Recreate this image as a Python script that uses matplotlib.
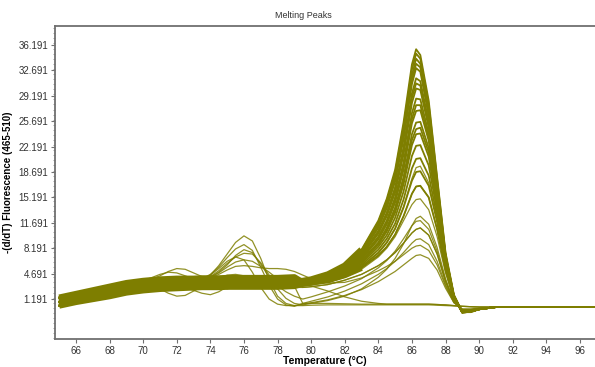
"""
Melting peaks chart
"""

import numpy as np
import matplotlib
matplotlib.use('Agg')
import matplotlib.pyplot as plt
from matplotlib.ticker import MultipleLocator, FixedLocator

# temperature grids (deg C) for the low and high part of every curve
temp_low = [65, 66, 67, 68, 69, 70, 71, 71.5, 72, 72.5, 73, 73.5, 74, 74.5,
            75, 75.5, 76, 76.5, 77, 77.5, 78, 78.5, 79]
temp_high = [79.5, 80, 81, 82, 83, 84, 84.5, 85, 85.5, 86, 86.25, 86.5, 87,
             87.5, 88, 88.5, 89, 89.5, 90, 91, 97]

# low part (65-79 C)
low_mid = [0.8, 1.3, 1.8, 2.2, 2.7, 3.0, 3.25, 3.3, 3.35, 3.4, 3.4, 3.45, 3.45,
           3.45, 3.5, 3.5, 3.5, 3.5, 3.5, 3.5, 3.5, 3.55, 3.6]
low_hi = [1.4, 1.9, 2.4, 2.9, 3.4, 3.7, 3.9, 3.95, 4.0, 4.0, 4.0, 4.05, 4.05,
          4.05, 4.1, 4.1, 4.1, 4.1, 4.1, 4.1, 4.1, 4.15, 4.2]
low_lo = [0.3, 0.8, 1.2, 1.6, 2.1, 2.4, 2.6, 2.65, 2.7, 2.75, 2.8, 2.85, 2.85,
          2.85, 2.9, 2.9, 2.9, 2.9, 2.9, 2.9, 2.9, 2.95, 3.0]
low_bump72a = [0.8, 1.3, 1.8, 2.3, 2.9, 3.5, 4.4, 5.0, 5.4, 5.3, 4.8, 4.3, 4.0,
               4.0, 4.2, 4.3, 4.2, 4.0, 3.8, 3.6, 3.5, 3.5, 3.5]
low_bump72b = [0.9, 1.4, 1.9, 2.4, 3.0, 3.7, 4.6, 4.9, 4.8, 4.4, 4.0, 3.8, 3.8,
               4.1, 4.5, 4.6, 4.4, 4.1, 3.8, 3.6, 3.5, 3.5, 3.5]
low_dip72 = [0.8, 1.3, 1.8, 2.2, 2.7, 3.0, 2.6, 2.0, 1.6, 1.7, 2.3, 2.9, 3.2,
             2.9, 2.6, 2.9, 3.3, 3.5, 3.5, 3.5, 3.5, 3.5, 3.5]
low_dip74 = [0.8, 1.3, 1.8, 2.2, 2.7, 3.2, 3.7, 3.6, 3.2, 2.8, 2.4, 2.0, 1.8,
             2.2, 2.9, 3.4, 3.6, 3.6, 3.5, 3.5, 3.5, 3.5, 3.5]
low_peak76a = [0.8, 1.3, 1.8, 2.3, 2.8, 3.2, 3.6, 3.8, 3.8, 3.7, 3.7, 3.9, 4.5,
               5.8, 7.4, 9.0, 9.9, 9.2, 6.8, 3.8, 1.6, 0.6, 0.3]
low_peak76b = [0.9, 1.4, 1.9, 2.3, 2.8, 3.2, 3.5, 3.6, 3.6, 3.6, 3.7, 4.0, 4.6,
               5.6, 6.9, 8.1, 8.7, 7.9, 5.6, 3.1, 1.2, 0.4, 0.2]
low_peak76c = [0.8, 1.3, 1.8, 2.2, 2.7, 3.1, 3.4, 3.5, 3.5, 3.5, 3.6, 3.8, 4.3,
               5.1, 6.1, 7.0, 7.5, 7.4, 6.2, 4.5, 3.0, 2.2, 1.6]
low_peak76d = [0.8, 1.3, 1.8, 2.2, 2.7, 3.0, 3.3, 3.4, 3.4, 3.5, 3.6, 3.8, 4.2,
               4.8, 5.6, 6.3, 6.6, 6.4, 5.7, 4.9, 4.0, 3.2, 2.8]
low_peak76e = [0.8, 1.3, 1.8, 2.2, 2.7, 3.0, 3.3, 3.4, 3.5, 3.5, 3.6, 3.8, 4.1,
               4.6, 5.2, 5.7, 5.8, 5.7, 5.5, 5.4, 5.4, 5.3, 5.0]
low_peak76f = [0.8, 1.3, 1.8, 2.2, 2.7, 3.0, 3.3, 3.4, 3.5, 3.5, 3.6, 3.9, 4.5,
               5.4, 6.4, 7.0, 6.6, 4.9, 2.8, 1.2, 0.5, 0.3, 0.3]
low_peak76g = [0.8, 1.3, 1.8, 2.2, 2.7, 3.0, 3.3, 3.4, 3.5, 3.5, 3.6, 3.8, 4.2,
               4.9, 5.9, 7.2, 8.0, 7.6, 6.0, 4.2, 2.6, 1.3, 0.6]

# high part (79.5-97 C), main product peaks
high_main = [
    [3.7, 3.9, 4.6, 5.8, 8.0, 12.0, 15.0, 19.0, 25.5, 33.5, 35.6, 34.8, 28.5, 18.0, 7.6, 1.8, -0.6, -0.6, -0.2, 0.1, 0.1],
    [3.7, 3.9, 4.6, 5.8, 7.9, 11.8, 14.7, 18.6, 24.9, 32.8, 35.0, 34.3, 28.0, 17.7, 7.4, 1.7, -0.6, -0.6, -0.2, 0.1, 0.1],
    [3.7, 3.9, 4.5, 5.7, 7.8, 11.5, 14.3, 18.2, 24.3, 32.0, 34.3, 33.6, 27.4, 17.3, 7.2, 1.6, -0.6, -0.5, -0.2, 0.1, 0.1],
    [3.6, 3.8, 4.5, 5.6, 7.6, 11.2, 14.0, 17.8, 23.7, 31.4, 33.6, 33.1, 26.8, 17.0, 7.1, 1.6, -0.7, -0.5, -0.2, 0.1, 0.1],
    [3.6, 3.8, 4.4, 5.5, 7.5, 11.0, 13.7, 17.4, 23.2, 30.8, 33.0, 32.5, 26.4, 16.8, 7.0, 1.5, -0.7, -0.5, -0.2, 0.1, 0.1],
    [3.6, 3.8, 4.4, 5.4, 7.3, 10.6, 13.1, 16.6, 22.1, 29.5, 31.6, 31.2, 25.6, 16.5, 7.0, 1.5, -0.6, -0.5, -0.2, 0.1, 0.1],
    [3.6, 3.8, 4.3, 5.4, 7.2, 10.4, 12.9, 16.3, 21.6, 28.9, 30.9, 30.6, 25.2, 16.3, 7.0, 1.5, -0.6, -0.5, -0.2, 0.1, 0.1],
    [3.5, 3.7, 4.3, 5.3, 7.1, 10.2, 12.6, 15.9, 21.1, 28.2, 30.2, 30.0, 24.8, 16.2, 7.0, 1.6, -0.6, -0.5, -0.2, 0.1, 0.1],
    [3.5, 3.7, 4.2, 5.2, 6.9, 9.8, 12.0, 15.2, 20.0, 26.8, 28.8, 28.7, 24.0, 15.8, 6.8, 1.5, -0.6, -0.5, -0.2, 0.1, 0.1],
    [3.5, 3.7, 4.2, 5.2, 6.8, 9.6, 11.8, 14.9, 19.5, 26.0, 27.9, 27.9, 23.4, 15.5, 6.7, 1.5, -0.6, -0.5, -0.2, 0.1, 0.1],
    [3.5, 3.7, 4.2, 5.1, 6.7, 9.4, 11.5, 14.5, 19.0, 25.4, 27.1, 27.2, 23.0, 15.2, 6.6, 1.5, -0.6, -0.5, -0.2, 0.1, 0.1],
    [3.4, 3.6, 4.1, 5.0, 6.5, 9.0, 11.0, 13.8, 18.0, 23.9, 25.5, 25.6, 22.0, 14.6, 6.4, 1.4, -0.6, -0.5, -0.2, 0.1, 0.1],
    [3.4, 3.6, 4.1, 4.9, 6.4, 8.8, 10.7, 13.4, 17.5, 23.1, 24.6, 24.8, 21.4, 14.3, 6.3, 1.4, -0.6, -0.5, -0.2, 0.1, 0.1],
    [3.4, 3.6, 4.0, 4.9, 6.3, 8.7, 10.5, 13.1, 17.0, 22.4, 23.9, 24.0, 20.8, 14.0, 6.2, 1.4, -0.6, -0.5, -0.2, 0.1, 0.1],
    [3.4, 3.6, 4.0, 4.8, 6.1, 8.4, 10.0, 12.4, 16.0, 20.9, 22.3, 22.4, 19.6, 13.3, 6.0, 1.4, -0.6, -0.5, -0.2, 0.1, 0.1],
    [3.3, 3.5, 3.9, 4.7, 5.9, 8.0, 9.5, 11.6, 14.9, 19.2, 20.5, 20.6, 18.2, 12.6, 5.8, 1.3, -0.6, -0.5, -0.2, 0.1, 0.1],
    [3.3, 3.5, 3.9, 4.6, 5.7, 7.6, 9.0, 10.9, 13.8, 17.5, 18.7, 18.8, 16.8, 11.8, 5.5, 1.3, -0.5, -0.5, -0.2, 0.1, 0.1],
    [3.3, 3.5, 3.8, 4.5, 5.5, 7.2, 8.4, 10.1, 12.6, 15.7, 16.7, 16.8, 15.2, 10.8, 5.2, 1.2, -0.5, -0.4, -0.2, 0.1, 0.1],
]
# weak product peaks
high_w1 = [3.0, 3.1, 3.5, 4.2, 5.3, 7.0, 8.2, 9.8, 12.0, 14.2, 14.9, 15.0, 13.5, 9.8, 4.8, 1.2, -0.4, -0.4, -0.2, 0.1, 0.1]
high_w2 = [1.2, 1.5, 2.2, 3.0, 4.0, 5.5, 6.5, 7.8, 9.5, 11.3, 11.9, 12.0, 10.8, 7.8, 3.8, 0.9, -0.3, -0.3, -0.1, 0.1, 0.1]
high_w3 = [2.8, 2.9, 3.2, 3.8, 4.6, 5.8, 6.6, 7.6, 8.9, 10.3, 10.8, 11.0, 10.0, 7.4, 3.6, 0.9, -0.3, -0.3, -0.1, 0.1, 0.1]
high_w4 = [0.6, 0.9, 1.5, 2.3, 3.3, 4.6, 5.4, 6.4, 7.6, 8.9, 9.4, 9.5, 8.7, 6.4, 3.2, 0.8, -0.2, -0.2, -0.1, 0.1, 0.1]
high_w5 = [4.5, 4.0, 3.4, 3.5, 4.1, 5.1, 5.7, 6.4, 7.3, 8.2, 8.5, 8.6, 7.9, 5.9, 3.0, 0.7, -0.2, -0.2, -0.1, 0.1, 0.1]
high_w6 = [0.5, 0.7, 1.1, 1.7, 2.5, 3.6, 4.3, 5.0, 5.9, 6.8, 7.2, 7.3, 6.8, 5.2, 2.7, 0.7, -0.2, -0.2, -0.1, 0.1, 0.1]
high_w7 = [3.2, 3.3, 3.7, 4.4, 5.5, 7.5, 8.9, 10.9, 13.9, 17.8, 19.3, 19.5, 17.2, 12.0, 5.6, 1.3, -0.5, -0.5, -0.2, 0.1, 0.1]
high_w8 = [0.4, 0.6, 1.0, 1.6, 2.6, 4.2, 5.3, 6.8, 8.8, 11.3, 12.3, 12.6, 11.5, 8.3, 4.0, 0.9, -0.3, -0.3, -0.1, 0.1, 0.1]
# no product: flat lines
high_flat1 = [0.3, 0.35, 0.4, 0.4, 0.4, 0.4, 0.4, 0.4, 0.4, 0.4, 0.4, 0.4, 0.4, 0.35, 0.3, 0.25, 0.2, 0.15, 0.1, 0.1, 0.1]
high_flat2 = [0.6, 0.6, 0.6, 0.55, 0.5, 0.5, 0.5, 0.5, 0.5, 0.5, 0.5, 0.5, 0.5, 0.45, 0.4, 0.3, 0.2, 0.15, 0.1, 0.1, 0.1]
high_drop = [3.3, 3.0, 2.3, 1.5, 0.9, 0.6, 0.5, 0.5, 0.5, 0.5, 0.5, 0.5, 0.5, 0.45, 0.4, 0.3, 0.2, 0.15, 0.1, 0.1, 0.1]

y_ticks = [1.191, 4.691, 8.191, 11.691, 15.191, 18.691, 22.191, 25.691, 29.191, 32.691, 36.191]
x_ticks = [66, 68, 70, 72, 74, 76, 78, 80, 82, 84, 86, 88, 90, 92, 94, 96]

color = '#7e7e00'
plt.rcParams['font.family'] = ['Liberation Sans', 'DejaVu Sans']

fig = plt.figure(figsize=(5.95, 3.67), dpi=100)
ax = fig.add_axes([55 / 595, 1 - 339 / 367, 1 - 55 / 595, (339 - 26) / 367])

t_all = temp_low + temp_high

# thin weak / odd curves
thin = [
    (low_bump72a, high_w1),
    (low_bump72b, high_w7),
    (low_dip72, high_w3),
    (low_dip74, high_main[17]),
    (low_peak76a, high_flat1),
    (low_peak76b, high_w4),
    (low_peak76c, high_w2),
    (low_peak76d, high_w3),
    (low_peak76e, high_w5),
    (low_peak76f, high_w6),
    (low_peak76g, high_w8),
    (low_mid, high_drop),
    (low_lo, high_flat2),
]
for low, high in thin:
    ax.plot(t_all, low + high, color=color, lw=0.9, alpha=0.85, zorder=2)

# main band: thin lines for the peaks, thick lines where the curves overlap
lows = [low_mid, low_hi, low_lo]
n_thick = len(temp_low) + 5  # thick band runs up to 83 C
for n, high in enumerate(high_main):
    curve = lows[n % 3] + high
    ax.plot(t_all, curve, color=color, lw=1.3, zorder=3)
for low, high in zip(lows, [high_main[0], high_main[8], high_main[17]]):
    curve = low + high
    ax.plot(t_all[:n_thick], curve[:n_thick], color=color, lw=4.5,
            solid_capstyle='butt', zorder=3)

ax.set_xlim(64.75, 96.9)
ax.set_ylim(-4.3, 38.8)
ax.yaxis.set_major_locator(FixedLocator(y_ticks))
ax.yaxis.set_minor_locator(MultipleLocator(0.7))
ax.xaxis.set_major_locator(FixedLocator(x_ticks))
ax.yaxis.set_major_formatter(plt.FuncFormatter(lambda v, p: f'{v:.3f}'))

for side in ['left', 'bottom', 'top']:
    ax.spines[side].set_color('#707070')
    ax.spines[side].set_linewidth(1.3)
ax.spines['right'].set_visible(False)
ax.tick_params(axis='both', which='major', labelsize=7, length=3, width=0.8,
               color='#707070', labelcolor='#333333', pad=2)
ax.tick_params(axis='y', which='minor', length=1.5, width=0.6, color='#909090')

fig.text(303 / 595, 1 - 15 / 367, 'Melting Peaks', ha='center', va='center',
         fontsize=6.5, color='#333333')
ax.set_xlabel('Temperature (°C)', fontsize=7.5, fontweight='bold', labelpad=0)
ax.set_ylabel('-(d/dT) Fluorescence (465-510)', fontsize=7, fontweight='bold', labelpad=4)

fig.savefig('out.png', dpi=100)
